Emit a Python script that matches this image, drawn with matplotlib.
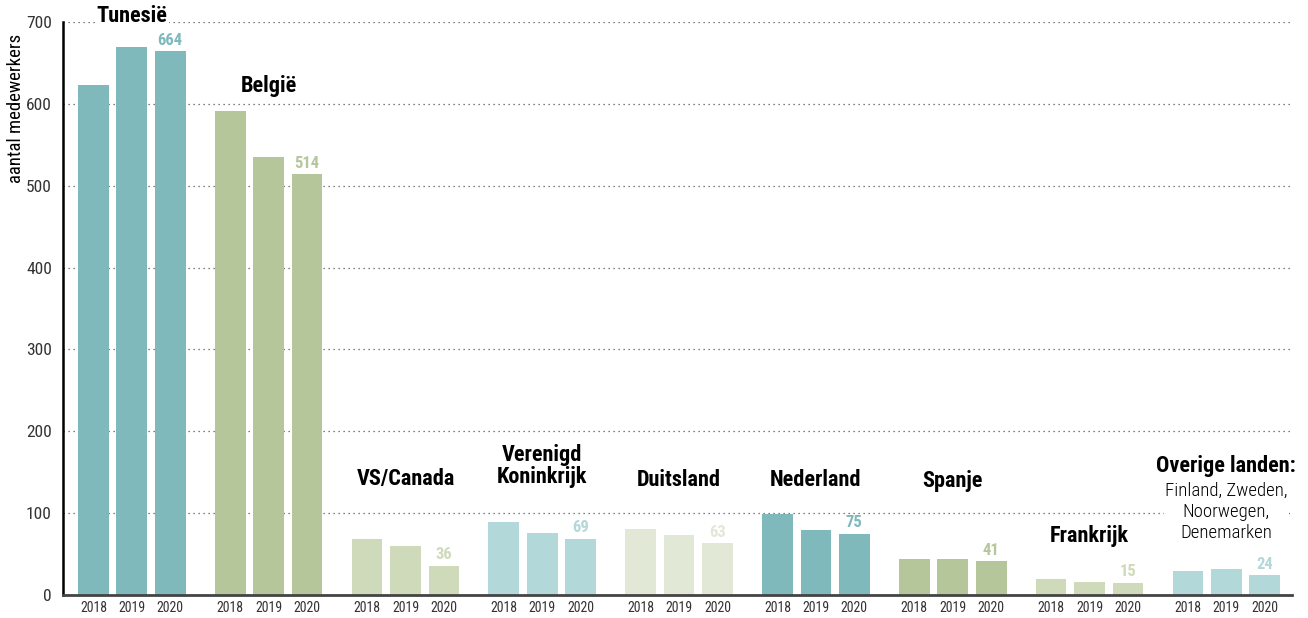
import matplotlib.pyplot as plt
import numpy as np

plt.rcParams['font.family'] = ['Roboto Condensed', 'DejaVu Sans']

# data
years = ['2018', '2019', '2020']
landen = ['Tunesië', 'België', 'VS/Canada', 'Verenigd\nKoninkrijk', 'Duitsland',
          'Nederland', 'Spanje', 'Frankrijk', 'Overige landen:']
v2018 = [623, 591, 68, 89, 81, 99, 44, 20, 29]
v2019 = [669, 535, 60, 76, 73, 80, 44, 16, 32]
v2020 = [664, 514, 36, 69, 63, 75, 41, 15, 24]
overige_sub = 'Finland, Zweden,\nNoorwegen,\nDenemarken'

kleuren = ['#7fb9bb', '#b5c69a', '#cfdabb', '#b3d8da', '#e2e8d6',
           '#7fb9bb', '#b5c69a', '#cfdabb', '#b3d8da']
# label centre heights (data units) per group
label_y = [707, 622, 142, 157, 141, 141, 139, 72, 158]

fig = plt.figure(figsize=(13.08, 6.18), dpi=100)
ax = fig.add_axes([0.0482, 0.0372, 0.9396, 0.9272])

pitch = 3.56
xs, xl = [], []
for g in range(len(landen)):
    vals = [v2018[g], v2019[g], v2020[g]]
    pos = g * pitch + np.arange(3)
    ax.bar(pos, vals, width=0.8, color=kleuren[g], zorder=2)
    xs.extend(pos)
    xl.extend(years)
    # value label on 2020 bar
    ax.text(pos[2], vals[2] + 4, str(vals[2]), ha='center', va='bottom',
            color=kleuren[g], fontsize=12, fontweight='bold', zorder=3)
    # country label
    ax.text(pos[1], label_y[g], landen[g], ha='center', va='center',
            fontsize=16, fontweight='bold', linespacing=1.0, zorder=4,
            clip_on=False,
            bbox=dict(facecolor='white', edgecolor='none', pad=1))

# sub-text for "overige landen"
g = len(landen) - 1
ax.text(g * pitch + 1, 102, overige_sub, ha='center', va='center', fontsize=13.5,
        fontweight='light', linespacing=1.22, zorder=4,
        bbox=dict(facecolor='white', edgecolor='none', pad=1))

ax.set_xlim(-0.79, 31.19)
ax.set_ylim(0, 700)
ax.set_yticks(range(0, 701, 100))
ax.set_xticks(xs)
ax.set_xticklabels(xl, fontsize=10, color='#333333')
ax.tick_params(axis='x', length=0, pad=4)
ax.tick_params(axis='y', length=0, labelsize=12.5, colors='#333333', pad=8)
ax.grid(axis='y', linestyle=(0, (1, 3)), color='#555555', linewidth=0.9, zorder=1)
ax.set_ylabel('aantal medewerkers', fontsize=13.5)
ax.yaxis.set_label_coords(-0.031, 0.849)

for s in ['top', 'right']:
    ax.spines[s].set_visible(False)
ax.spines['left'].set_linewidth(1.8)
ax.spines['bottom'].set_linewidth(2)
ax.spines['bottom'].set_color('#444444')

fig.savefig('out.png', dpi=100)
